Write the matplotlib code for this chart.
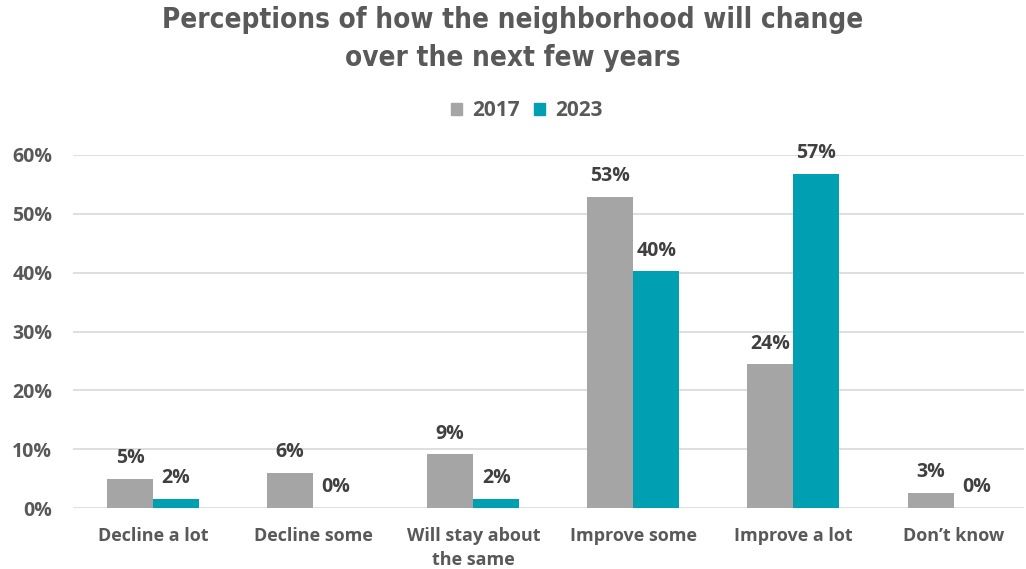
import matplotlib
matplotlib.use("Agg")
import matplotlib.pyplot as plt
import numpy as np
from matplotlib.patches import Patch

categories = ["Decline a lot", "Decline some", "Will stay about\nthe same",
              "Improve some", "Improve a lot", "Don\u2019t know"]
years = ["2017", "2023"]
share_2017 = [4.9, 5.9, 9.1, 52.9, 24.4, 2.6]
share_2023 = [1.5, 0.0, 1.5, 40.2, 56.8, 0.0]
y_ticks = [0, 10, 20, 30, 40, 50, 60]

GRAY = "#A5A5A5"
TEAL = "#00A0B2"
TEXT = "#595959"
LABEL = "#404040"
BODY_FONT = ["Open Sans", "DejaVu Sans"]
TITLE_FONT = ["DejaVu Sans"]

fig = plt.figure(figsize=(10.26, 5.69), dpi=100)
ax = fig.add_axes([73 / 1026, 1 - 508 / 569, 951 / 1026, 353 / 569])

x = np.arange(len(categories))
w = 0.2875
series = [(share_2017, GRAY, -w / 2), (share_2023, TEAL, w / 2)]
for vals, col, off in series:
    bars = ax.bar(x + off, vals, width=w, color=col, zorder=3)
    for b, v in zip(bars, vals):
        ax.annotate(f"{round(v):.0f}%", (b.get_x() + b.get_width() / 2, v),
                    xytext=(0, 15), textcoords="offset points",
                    ha="center", va="center", fontsize=14,
                    fontweight="bold", color=LABEL, family=BODY_FONT)

ax.set_xlim(-0.5, 5.44)
ax.set_ylim(0, 60)
ax.set_yticks(y_ticks)
ax.set_yticklabels([f"{t}%" for t in y_ticks], fontsize=14,
                   fontweight="bold", color=TEXT, family=BODY_FONT)
ax.set_xticks(x)
ax.set_xticklabels(categories, fontsize=13, fontweight="bold",
                   color=TEXT, family=BODY_FONT, linespacing=1.4)
ax.tick_params(axis="y", length=0, pad=15)
ax.tick_params(axis="x", length=0, pad=14)
for lbl in ax.get_xticklabels():
    lbl.set_verticalalignment("top")
ax.grid(axis="y", color="#D9D9D9", linewidth=1.2, zorder=0)
for s in ax.spines.values():
    s.set_visible(False)

for txt, ypix in [("Perceptions of how the neighborhood will change", 20),
                  ("over the next few years", 58)]:
    fig.text(0.5, 1 - ypix / 569, txt, ha="center", va="center",
             fontsize=20, fontweight="bold", fontstretch="condensed",
             color=TEXT, family=TITLE_FONT)

handles = [Patch(color=GRAY, label=years[0]), Patch(color=TEAL, label=years[1])]
fig.legend(handles=handles, loc="center", bbox_to_anchor=(527 / 1026, 1 - 111 / 569),
           ncol=2, frameon=False, handlelength=0.5, handleheight=0.5,
           handletextpad=0.5, columnspacing=0.7,
           prop={"family": BODY_FONT, "weight": "bold", "size": 15},
           labelcolor=TEXT)

fig.savefig("out.png", dpi=100)
